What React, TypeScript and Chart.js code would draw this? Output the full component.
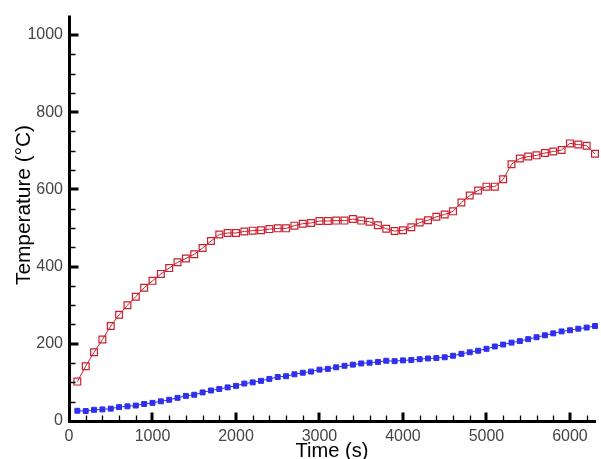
import React, { useEffect, useRef } from "react";
import { Chart, registerables } from "chart.js";

Chart.register(...registerables);

// ---- data ----
const timeS = [
  100, 200, 300, 400, 500, 600, 700, 800, 900, 1000,
  1100, 1200, 1300, 1400, 1500, 1600, 1700, 1800, 1900, 2000,
  2100, 2200, 2300, 2400, 2500, 2600, 2700, 2800, 2900, 3000,
  3100, 3200, 3300, 3400, 3500, 3600, 3700, 3800, 3900, 4000,
  4100, 4200, 4300, 4400, 4500, 4600, 4700, 4800, 4900, 5000,
  5100, 5200, 5300, 5400, 5500, 5600, 5700, 5800, 5900, 6000,
  6100, 6200, 6300,
];

const redTemp = [
  102, 142, 178, 211, 246, 275, 300, 322, 345, 363,
  381, 396, 411, 421, 432, 448, 466, 483, 487, 487,
  491, 493, 494, 497, 499, 499, 506, 511, 513, 518,
  518, 519, 519, 523, 519, 516, 507, 498, 492, 494,
  502, 514, 520, 529, 535, 543, 566, 584, 597, 607,
  607, 626, 665, 680, 685, 688, 694, 698, 702, 719,
  716, 713, 692,
];

const blueTemp = [
  26.5, 26, 29, 30, 32, 36, 38, 40, 44, 47,
  51, 55, 60, 65, 68, 74, 79, 83, 87, 91,
  97, 100, 104, 109, 114, 116, 121, 125, 128, 133,
  135, 139, 143, 146, 149, 151, 153, 156, 155, 157,
  158, 160, 162, 163, 165, 169, 174, 178, 182, 187,
  193, 198, 203, 207, 212, 217, 222, 227, 232, 235,
  239, 242, 246,
];

const xTickValues = [0, 1000, 2000, 3000, 4000, 5000, 6000];
const yTickValues = [0, 200, 400, 600, 800, 1000];
const X_MIN = 0;
const X_MAX = 6300;
const Y_MIN = 0;
const Y_MAX = 1050;
const X_MINOR_STEP = 200;
const Y_MINOR_STEP = 50;
const X_TITLE = "Time (s)";
const Y_TITLE = "Temperature (°C)";

const FONT = "'Liberation Sans', Arial, Helvetica, sans-serif";

const axisDecor = {
  id: "axisDecor",
  afterDraw(chart: any) {
    const { ctx, chartArea, scales } = chart;
    const xs = scales.x;
    const ys = scales.y;
    const left = chartArea.left + 0.5;
    const bottom = chartArea.bottom + 0.5;
    ctx.save();
    ctx.strokeStyle = "#000";
    ctx.lineCap = "butt";

    // minor ticks
    ctx.lineWidth = 1.3;
    ctx.beginPath();
    for (let v = X_MIN + X_MINOR_STEP; v <= X_MAX; v += X_MINOR_STEP) {
      if (xTickValues.includes(v)) continue;
      const px = Math.round(xs.getPixelForValue(v)) + 0.5;
      ctx.moveTo(px, bottom);
      ctx.lineTo(px, bottom - 6);
    }
    for (let v = Y_MIN + Y_MINOR_STEP; v <= 1000; v += Y_MINOR_STEP) {
      if (yTickValues.includes(v)) continue;
      const py = Math.round(ys.getPixelForValue(v)) + 0.5;
      ctx.moveTo(left, py);
      ctx.lineTo(left + 6, py);
    }
    ctx.stroke();

    // major ticks
    ctx.lineWidth = 3;
    ctx.beginPath();
    for (const v of xTickValues) {
      if (v === 0) continue;
      const px = Math.round(xs.getPixelForValue(v));
      ctx.moveTo(px, bottom);
      ctx.lineTo(px, bottom - 9);
    }
    for (const v of yTickValues) {
      if (v === 0) continue;
      const py = Math.round(ys.getPixelForValue(v));
      ctx.moveTo(left, py);
      ctx.lineTo(left + 9, py);
    }
    ctx.stroke();

    // axis lines
    ctx.lineWidth = 3;
    ctx.beginPath();
    ctx.moveTo(left, chartArea.top);
    ctx.lineTo(left, bottom + 1.5);
    ctx.moveTo(left - 1.5, bottom);
    ctx.lineTo(chartArea.right + 1, bottom);
    ctx.stroke();

    // axis titles
    ctx.fillStyle = "#000";
    ctx.font = `21px ${FONT}`;
    ctx.textAlign = "center";
    ctx.textBaseline = "alphabetic";
    const wx = ctx.measureText(X_TITLE).width;
    const sx = 73 / wx;
    ctx.save();
    ctx.translate((chartArea.left + chartArea.right) / 2, 457);
    ctx.scale(sx, 1);
    ctx.fillText(X_TITLE, 0, 0);
    ctx.restore();

    ctx.font = `21px ${FONT}`;
    const wy = ctx.measureText(Y_TITLE).width;
    const sy = 160 / wy;
    ctx.save();
    ctx.translate(30, 205);
    ctx.rotate(-Math.PI / 2);
    ctx.scale(sy, 1);
    ctx.fillText(Y_TITLE, 0, 0);
    ctx.restore();

    ctx.restore();
  },
};

export default function App() {
  const canvasRef = useRef<HTMLCanvasElement | null>(null);

  useEffect(() => {
    const canvas = canvasRef.current;
    if (!canvas) return;
    const chart = new Chart(canvas, {
      type: "line",
      data: {
        datasets: [
          {
            label: "Red",
            data: timeS.map((t, i) => ({ x: t, y: redTemp[i] })),
            borderColor: "#c8202e",
            borderWidth: 1,
            pointStyle: "rect",
            pointRadius: 4.8,
            pointBorderWidth: 1.2,
            pointBorderColor: "#c8202e",
            pointBackgroundColor: "rgba(0,0,0,0)",
            tension: 0,
            fill: false,
            clip: false as any,
          },
          {
            label: "Blue",
            data: timeS.map((t, i) => ({ x: t, y: blueTemp[i] })),
            borderColor: "#2f2fee",
            borderWidth: 1,
            pointStyle: "rect",
            pointRadius: 3.5,
            pointBorderWidth: 1,
            pointBorderColor: "#2f2fee",
            pointBackgroundColor: "#2f2fee",
            tension: 0,
            fill: false,
            clip: false as any,
          },
        ],
      },
      options: {
        animation: false,
        responsive: false,
        maintainAspectRatio: false,
        layout: { padding: { left: 0, top: 12, right: 4, bottom: 0 } },
        plugins: {
          legend: { display: false },
          tooltip: { enabled: false },
          title: { display: false },
        },
        scales: {
          x: {
            type: "linear",
            min: X_MIN,
            max: X_MAX,
            grid: { display: false, drawTicks: false },
            border: { display: false },
            afterBuildTicks: (scale: any) => {
              scale.ticks = xTickValues.map((v) => ({ value: v }));
            },
            afterFit: (scale: any) => {
              scale.height = 38;
            },
            ticks: {
              padding: 6,
              maxRotation: 0,
              autoSkip: false,
              color: "#454545",
              font: { family: FONT, size: 16 },
              callback: (v: any) => String(v),
            },
          },
          y: {
            type: "linear",
            min: Y_MIN,
            max: Y_MAX,
            grid: { display: false, drawTicks: false },
            border: { display: false },
            afterBuildTicks: (scale: any) => {
              scale.ticks = yTickValues.map((v) => ({ value: v }));
            },
            afterFit: (scale: any) => {
              scale.width = 69;
            },
            ticks: {
              padding: 6,
              autoSkip: false,
              color: "#454545",
              font: { family: FONT, size: 16 },
              callback: (v: any) => String(v),
            },
          },
        },
      },
      plugins: [axisDecor],
    });
    return () => chart.destroy();
  }, []);

  return (
    <div style={{ position: "absolute", left: 0, top: 0, width: 601, height: 459, background: "#fff" }}>
      <canvas ref={canvasRef} width={601} height={459} style={{ display: "block", width: 601, height: 459 }} />
    </div>
  );
}
